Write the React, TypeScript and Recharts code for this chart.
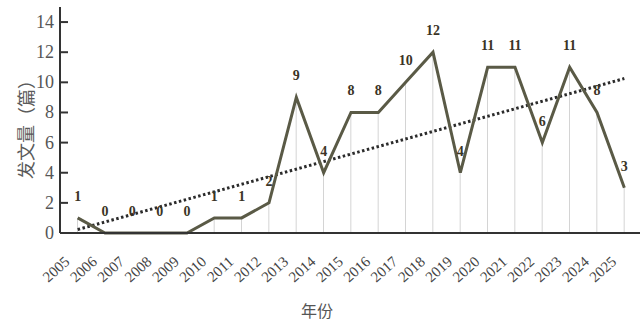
import { ComposedChart, Line, Bar, XAxis, YAxis, ReferenceLine, LabelList } from 'recharts';

const years = ['2005', '2006', '2007', '2008', '2009', '2010', '2011', '2012', '2013', '2014', '2015', '2016', '2017', '2018', '2019', '2020', '2021', '2022', '2023', '2024', '2025'];
const counts = [1, 0, 0, 0, 0, 1, 1, 2, 9, 4, 8, 8, 10, 12, 4, 11, 11, 6, 11, 8, 3];
const yTicks = [0, 2, 4, 6, 8, 10, 12, 14];
// linear trend end points
const trendEnds = [
  { x: '2005', y: 0.23 },
  { x: '2025', y: 10.25 },
];

const data = years.map((year, i) => ({ year, count: counts[i] }));

const serif = '"Liberation Serif", "DejaVu Serif", serif';
const cjk = '"Noto Sans CJK SC", sans-serif';

function YTick({ x, y, payload }: any) {
  return (
    <g>
      <line x1={x + 6} x2={x + 14} y1={y} y2={y} stroke="#333" strokeWidth={2} />
      <text x={x} y={y} dy={6} textAnchor="end" fontSize={18} fill="#555" fontFamily={serif}>
        {payload.value}
      </text>
    </g>
  );
}

function XTick({ x, y, payload }: any) {
  return (
    <text
      transform={`translate(${x - 7},${y + 22}) rotate(-42)`}
      textAnchor="end"
      fontSize={15}
      fill="#444"
      fontFamily={serif}
    >
      {payload.value}
    </text>
  );
}

export default function App() {
  return (
    <div style={{ position: 'absolute', left: 0, top: 0, width: 642, height: 321, background: '#fff' }}>
      <ComposedChart width={642} height={321} data={data} margin={{ top: 7, right: 2, bottom: 0, left: 0 }}>
        <XAxis
          dataKey="year"
          interval={0}
          height={88}
          padding={{ left: 4, right: 2 }}
          tick={<XTick />}
          tickLine={false}
          axisLine={{ stroke: '#333', strokeWidth: 2 }}
        />
        <YAxis
          domain={[0, 15]}
          ticks={yTicks}
          width={60}
          tick={<YTick />}
          tickSize={0}
          tickMargin={6}
          tickLine={false}
          axisLine={{ stroke: '#333', strokeWidth: 2 }}
        />
        <Bar dataKey="count" barSize={1} fill="#d4d4d4" isAnimationActive={false} />
        <ReferenceLine
          segment={trendEnds}
          position="middle"
          stroke="#2b2b2b"
          strokeWidth={3}
          strokeDasharray="2.5 2.5"
        />
        <Line
          type="linear"
          dataKey="count"
          stroke="#5a5a46"
          strokeWidth={3}
          dot={false}
          isAnimationActive={false}
        >
          <LabelList
            dataKey="count"
            position="top"
            offset={17}
            fontSize={14}
            fontWeight="bold"
            fill="#3b3426"
            fontFamily={serif}
          />
        </Line>
      </ComposedChart>
      <div
        style={{
          position: 'absolute',
          left: 25,
          top: 125,
          transform: 'translate(-50%, -50%) rotate(-90deg)',
          whiteSpace: 'nowrap',
          fontFamily: cjk,
          fontSize: 18,
          lineHeight: '20px',
          color: '#5a5a5a',
        }}
      >
        发文量（篇）
      </div>
      <div
        style={{
          position: 'absolute',
          left: 317,
          top: 310,
          transform: 'translate(-50%, -50%)',
          whiteSpace: 'nowrap',
          fontFamily: cjk,
          fontSize: 16,
          lineHeight: '16px',
          color: '#555',
        }}
      >
        年份
      </div>
    </div>
  );
}
